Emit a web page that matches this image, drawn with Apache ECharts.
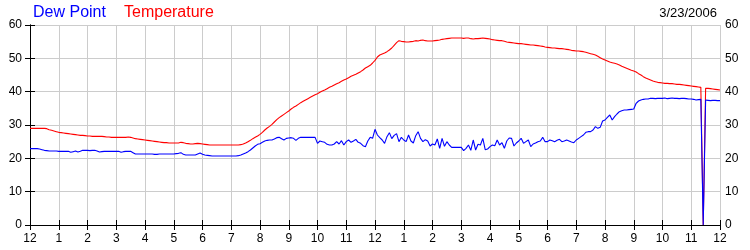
<!DOCTYPE html>
<html>
<head>
<meta charset="utf-8">
<script src="https://cdn.jsdelivr.net/npm/echarts@6/dist/echarts.min.js"></script>
<style>
html,body{margin:0;padding:0;background:#fff;}
#chart{width:750px;height:250px;}
</style>
</head>
<body>
<div id="chart"></div>
<script>
// 5-minute samples from 12:00 AM to 12:00 AM next day (289 values)
const temperature = [
  29.0,29.0,29.0,29.0,29.0,29.0,29.0,28.9,28.6,28.4,28.2,28.0,
  27.8,27.7,27.6,27.5,27.4,27.3,27.2,27.1,27.0,26.9,26.9,26.8,
  26.7,26.7,26.6,26.6,26.6,26.6,26.6,26.5,26.4,26.4,26.3,26.3,
  26.3,26.3,26.3,26.3,26.3,26.4,26.3,26.1,25.9,25.8,25.7,25.6,
  25.5,25.4,25.3,25.2,25.1,25.0,24.9,24.8,24.7,24.7,24.6,24.6,
  24.6,24.6,24.6,24.8,24.7,24.5,24.4,24.3,24.3,24.4,24.5,24.4,
  24.3,24.2,24.1,24.0,24.0,24.0,24.0,24.0,24.0,24.0,24.0,24.0,
  24.0,24.0,24.0,24.0,24.1,24.3,24.6,25.0,25.4,25.9,26.3,26.7,
  27.2,27.8,28.5,29.1,29.6,30.2,30.9,31.6,32.2,32.7,33.2,33.7,
  34.2,34.8,35.3,35.7,36.2,36.7,37.1,37.5,37.9,38.3,38.7,39.1,
  39.4,39.8,40.2,40.5,40.9,41.3,41.6,42.0,42.4,42.7,43.1,43.5,
  43.8,44.2,44.6,44.9,45.2,45.6,46.0,46.5,47.1,47.5,47.9,48.6,
  49.4,50.4,51.0,51.3,51.6,52.0,52.5,53.1,53.9,54.7,55.3,55.1,
  55.0,54.9,54.9,55.0,55.1,55.3,55.2,55.4,55.5,55.3,55.2,55.2,
  55.2,55.3,55.4,55.5,55.7,55.8,55.9,56.0,56.1,56.1,56.1,56.1,
  56.1,56.0,56.1,56.1,55.9,55.8,55.9,55.9,56.0,56.1,56.0,55.9,
  55.8,55.6,55.5,55.4,55.3,55.3,55.1,54.9,54.8,54.7,54.6,54.5,
  54.4,54.4,54.3,54.2,54.1,54.0,54.0,53.9,53.8,53.7,53.6,53.4,
  53.3,53.2,53.1,53.1,53.0,52.9,52.9,52.8,52.7,52.6,52.4,52.3,
  52.2,52.2,52.1,52.0,51.8,51.6,51.4,51.2,51.0,50.6,50.2,49.8,
  49.5,49.2,48.9,48.7,48.5,48.3,48.0,47.6,47.3,47.0,46.7,46.4,
  46.2,45.9,45.4,45.0,44.5,44.1,43.8,43.5,43.2,43.0,42.8,42.7,
  42.6,42.5,42.5,42.4,42.4,42.3,42.2,42.2,42.1,42.0,41.9,41.8,
  41.7,41.6,41.5,41.4,41.3,0,41.0,41.0,40.9,40.8,40.7,40.6,
  40.5
];
const dewPoint = [
  22.9,22.9,22.9,22.9,22.8,22.6,22.4,22.3,22.2,22.2,22.2,22.2,
  22.1,22.1,22.1,22.1,22.1,21.8,22.0,22.2,21.9,22.1,22.4,22.4,
  22.4,22.3,22.4,22.4,22.2,21.9,22.0,22.1,22.1,22.1,22.1,22.1,
  22.1,22.1,21.8,22.0,22.1,22.1,22.1,21.7,21.3,21.3,21.3,21.3,
  21.3,21.3,21.3,21.3,21.2,21.2,21.3,21.3,21.3,21.3,21.3,21.3,
  21.3,21.4,21.5,21.7,21.2,21.0,21.0,21.0,21.0,21.0,21.3,21.6,
  21.2,21.0,20.9,20.8,20.7,20.7,20.7,20.7,20.7,20.7,20.7,20.7,
  20.7,20.7,20.7,20.8,21.0,21.3,21.6,22.0,22.5,23.1,23.7,24.2,
  24.4,24.8,25.2,25.4,25.5,25.5,25.8,26.2,26.3,25.9,25.5,26.0,
  26.1,26.2,26.0,25.4,26.0,26.3,26.3,26.3,26.3,26.3,26.3,26.3,
  24.5,25.2,25.0,24.8,24.2,24.0,24.0,24.3,25.0,24.3,25.3,24.0,
  25.0,25.5,24.8,25.2,25.7,24.8,24.5,23.8,23.5,25.2,26.3,26.0,
  28.7,27.0,26.2,25.5,24.5,26.5,27.7,25.9,26.9,27.4,25.0,26.3,
  25.5,25.0,27.0,25.2,24.6,26.8,28.0,26.0,25.0,25.6,25.2,23.7,
  24.3,24.0,25.8,23.0,26.0,23.6,25.0,24.0,23.3,23.3,23.3,23.3,
  23.3,22.3,23.0,24.0,22.4,25.5,22.5,24.2,24.0,26.0,22.6,22.8,
  23.5,24.0,23.8,25.5,24.0,24.7,23.0,25.2,26.1,26.0,23.7,24.6,
  25.2,26.0,24.5,25.0,25.5,23.5,24.3,24.6,25.0,25.2,26.3,25.0,
  25.0,25.5,25.3,25.0,25.4,25.7,25.0,25.2,25.5,25.2,24.9,24.7,
  25.5,26.0,26.5,27.0,27.8,28.0,28.0,28.5,29.5,29.0,29.3,31.2,
  31.5,32.3,33.0,31.5,32.5,33.3,34.0,34.3,34.5,34.5,34.6,34.7,
  34.8,36.5,37.2,37.5,37.7,37.8,37.8,38.0,38.0,37.9,38.0,38.0,
  38.0,38.1,37.9,38.0,38.1,38.0,38.0,37.9,38.0,38.0,37.9,37.8,
  37.8,37.7,37.5,37.6,37.7,0,37.5,37.4,37.3,37.4,37.4,37.3,
  37.3
];
const hourLabels = ['12','1','2','3','4','5','6','7','8','9','10','11',
                    '12','1','2','3','4','5','6','7','8','9','10','11','12'];
const yTicks = [0,10,20,30,40,50,60];
const legendNames = ['Dew Point','Temperature'];
const dateText = '3/23/2006';

const minutes = temperature.map((_, i) => i * 5);
const FONT = '"Liberation Sans", Arial, sans-serif';

const chart = echarts.init(document.getElementById('chart'), null, {renderer:'canvas'});
const commonX = {
  type:'value', min:0, max:1440, interval:60,
  axisLine:{show:true, lineStyle:{color:'#000', width:1}},
  axisTick:{show:true, inside:true, length:5, lineStyle:{color:'#000'}}
};
const commonY = {
  type:'value', min:yTicks[0], max:yTicks[yTicks.length-1], interval:10,
  axisLine:{show:true, lineStyle:{color:'#000', width:1}},
  axisTick:{show:true, inside:true, length:5, lineStyle:{color:'#000'}}
};
chart.setOption({
  animation:false,
  backgroundColor:'#fff',
  grid:{left:30, right:30, top:25, bottom:25, containLabel:false},
  xAxis:[
    Object.assign({}, commonX, {
      position:'bottom',
      axisLabel:{color:'#000', fontSize:12, fontFamily:FONT, margin:8,
        formatter: v => hourLabels[Math.round(v/60)]},
      splitLine:{show:true, lineStyle:{color:'#cccccc', width:1}}
    }),
    Object.assign({}, commonX, {
      position:'top',
      axisLabel:{show:false},
      splitLine:{show:false}
    })
  ],
  yAxis:[
    Object.assign({}, commonY, {
      position:'left',
      axisLabel:{color:'#000', fontSize:12, fontFamily:FONT, margin:8},
      splitLine:{show:true, lineStyle:{color:'#cccccc', width:1}}
    }),
    Object.assign({}, commonY, {
      position:'right',
      axisLabel:{color:'#000', fontSize:12, fontFamily:FONT, margin:5},
      splitLine:{show:false}
    })
  ],
  series:[
    {
      name:legendNames[1], type:'line', xAxisIndex:0, yAxisIndex:0,
      data: temperature.map((v,i)=>[minutes[i], v]),
      showSymbol:false, symbol:'none',
      lineStyle:{color:'#ff0000', width:1.1},
      itemStyle:{color:'#ff0000'}
    },
    {
      name:legendNames[0], type:'line', xAxisIndex:0, yAxisIndex:0,
      data: dewPoint.map((v,i)=>[minutes[i], v]),
      showSymbol:false, symbol:'none',
      lineStyle:{color:'#0000ff', width:1.1},
      itemStyle:{color:'#0000ff'}
    }
  ],
  graphic:[
    {type:'text', left:33, top:5, style:{text:legendNames[0], fill:'#0000ff', font:'16px '+FONT}},
    {type:'text', left:124, top:5, style:{text:legendNames[1], fill:'#ff0000', font:'16px '+FONT}},
    {type:'text', right:33, top:7, style:{text:dateText, fill:'#000', font:'13px '+FONT}}
  ]
});
</script>
</body>
</html>
